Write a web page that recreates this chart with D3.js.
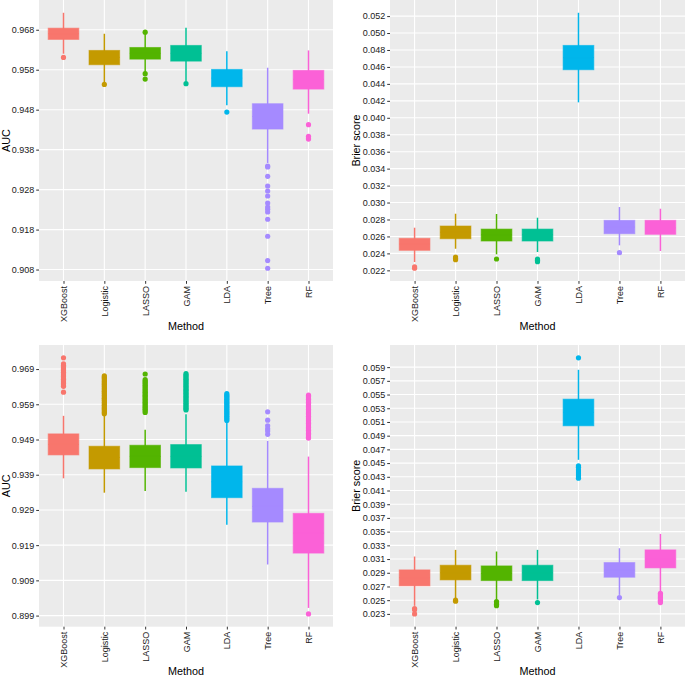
<!DOCTYPE html>
<html><head><meta charset="utf-8">
<script src="https://cdn.jsdelivr.net/npm/d3@7"></script>
<style>body{margin:0;background:#fff}svg{display:block}text{font-family:"Liberation Sans",Arial,sans-serif}</style>
</head><body>
<svg id="chart" width="685" height="676"></svg>
<script>
const methods = ["XGBoost","Logistic","LASSO","GAM","LDA","Tree","RF"];
const colors = ["#F8766D","#C49A00","#53B400","#00C094","#00B6EB","#A58AFF","#FB61D7"];

// Panel A: AUC (top-left)
const aucA_lo  = [0.9620, 0.9549, 0.9574, 0.95508, 0.94908, 0.93467, 0.9470];
const aucA_q1  = [0.96558, 0.95925, 0.96065, 0.96015, 0.95375, 0.94315, 0.95315];
const aucA_med = [0.9670, 0.9611, 0.9621, 0.9621, 0.9559, 0.9463, 0.9556];
const aucA_q3  = [0.9684, 0.96283, 0.96357, 0.96408, 0.95808, 0.9495, 0.95783];
const aucA_hi  = [0.97225, 0.9670, 0.9670, 0.9685, 0.96265, 0.9585, 0.96283];
const aucA_out = [
  [0.96107],
  [0.95433],
  [0.9674, 0.95700, 0.95565],
  [0.9545],
  [0.9474],
  [0.9339, 0.93366, 0.93133, 0.9289, 0.92765, 0.9264, 0.92465, 0.92365, 0.92308, 0.9224, 0.92058, 0.91633, 0.91025, 0.90833],
  [0.94425, 0.94133, 0.9409, 0.94065]
];
const aucA_ticks = [0.908, 0.918, 0.928, 0.938, 0.948, 0.958, 0.968];

// Panel B: Brier score (top-right)
const brierB_lo  = [0.02298, 0.02455, 0.02389, 0.02416, 0.04182, 0.02495, 0.02428];
const brierB_q1  = [0.02436, 0.02573, 0.02546, 0.02546, 0.04567, 0.02632, 0.02625];
const brierB_med = [0.0251, 0.0265, 0.0262, 0.0262, 0.0471, 0.0271, 0.0270];
const brierB_q3  = [0.02578, 0.02723, 0.02687, 0.02687, 0.04854, 0.0279, 0.0279];
const brierB_hi  = [0.02703, 0.02868, 0.02865, 0.02821, 0.05239, 0.02947, 0.02927];
const brierB_out = [
  [0.0224, 0.02225],
  [0.02357, 0.02340, 0.02326],
  [0.02334],
  [0.02334, 0.02318, 0.02302],
  [],
  [0.02408],
  []
];
const brierB_ticks = [0.022,0.024,0.026,0.028,0.030,0.032,0.034,0.036,0.038,0.040,0.042,0.044,0.046,0.048,0.050,0.052];

// Panel C: AUC (bottom-left)
const aucC_lo  = [0.93798, 0.9339, 0.93438, 0.93419, 0.9248, 0.91351, 0.90118];
const aucC_q1  = [0.94462, 0.94064, 0.94102, 0.94092, 0.93248, 0.92556, 0.91674];
const aucC_med = [0.9476, 0.9439, 0.9442, 0.9442, 0.9370, 0.9300, 0.9224];
const aucC_q3  = [0.9506, 0.94709, 0.94737, 0.94756, 0.94149, 0.93514, 0.92803];
const aucC_hi  = [0.95572, 0.95572, 0.95174, 0.9562, 0.95411, 0.94861, 0.94415];
const aucC_out = [
  [0.9722, 0.9705, 0.9701, 0.9697, 0.9693, 0.9689, 0.9685, 0.9681, 0.9677, 0.9673, 0.9669, 0.9665, 0.9661, 0.9657, 0.9653, 0.9649, 0.9645, 0.9641, 0.96245],
  [0.9671, 0.9667, 0.9663, 0.9659, 0.9655, 0.9651, 0.9647, 0.9643, 0.9639, 0.9635, 0.9631, 0.9627, 0.9623, 0.9619, 0.9615, 0.9611, 0.9607, 0.9603, 0.9599, 0.9595, 0.9591, 0.9587, 0.9583, 0.9579, 0.9575, 0.9571, 0.9567, 0.9563],
  [0.9676, 0.9660, 0.9656, 0.9652, 0.9648, 0.9644, 0.9640, 0.9636, 0.9632, 0.9628, 0.9624, 0.9620, 0.9616, 0.9612, 0.9608, 0.9604, 0.9600, 0.9596, 0.9592, 0.9588, 0.9584, 0.9580, 0.9576, 0.9572, 0.9567],
  [0.9677, 0.9673, 0.9669, 0.9665, 0.9661, 0.9657, 0.9653, 0.9649, 0.9645, 0.9641, 0.9637, 0.9633, 0.9629, 0.9625, 0.9621, 0.9617, 0.9613, 0.9609, 0.9605, 0.9601, 0.9597, 0.9593, 0.9589, 0.9585, 0.9581, 0.9577, 0.9574],
  [0.9620, 0.9616, 0.9612, 0.9608, 0.9604, 0.9600, 0.9596, 0.9592, 0.9588, 0.9584, 0.9580, 0.9576, 0.9572, 0.9568, 0.9564, 0.9560, 0.9556, 0.9552, 0.9548, 0.9544],
  [0.95686, 0.95449, 0.95288, 0.95202, 0.95145, 0.95046],
  [0.9616, 0.9612, 0.9608, 0.9604, 0.9600, 0.9596, 0.9592, 0.9588, 0.9584, 0.9580, 0.9576, 0.9572, 0.9568, 0.9564, 0.9560, 0.9556, 0.9552, 0.9548, 0.9544, 0.9540, 0.9536, 0.9532, 0.9528, 0.9524, 0.9520, 0.9516, 0.9512, 0.9508, 0.9504, 0.9500, 0.9496, 0.9494, 0.89948]
];
const aucC_ticks = [0.899, 0.909, 0.919, 0.929, 0.939, 0.949, 0.959, 0.969];

// Panel D: Brier score (bottom-right)
const brierD_lo  = [0.02417, 0.02529, 0.02504, 0.0251, 0.04548, 0.02577, 0.02626];
const brierD_q1  = [0.02709, 0.02796, 0.02786, 0.02786, 0.05044, 0.02835, 0.02971];
const brierD_med = [0.0283, 0.0290, 0.0289, 0.0290, 0.0524, 0.0294, 0.0310];
const brierD_q3  = [0.02942, 0.0301, 0.0300, 0.0301, 0.05433, 0.03049, 0.03234];
const brierD_hi  = [0.03137, 0.03234, 0.0321, 0.03234, 0.05861, 0.03258, 0.03467];
const brierD_out = [
  [0.02378, 0.02360, 0.0230],
  [0.0250, 0.02485],
  [0.0248, 0.0246, 0.0244, 0.0242],
  [0.02465],
  [0.06036, 0.0446, 0.0444, 0.0440, 0.0437, 0.0434, 0.0431, 0.0428],
  [0.02538],
  [0.0260, 0.0258, 0.0256, 0.0254, 0.0252, 0.0250, 0.0248, 0.02465]
];
const brierD_ticks = [0.023,0.025,0.027,0.029,0.031,0.033,0.035,0.037,0.039,0.041,0.043,0.045,0.047,0.049,0.051,0.053,0.055,0.057,0.059];

const panels = [
  {lo:aucA_lo,q1:aucA_q1,med:aucA_med,q3:aucA_q3,hi:aucA_hi,out:aucA_out,ticks:aucA_ticks,ylab:"AUC",box:[39,333,0,281],titleX:6},
  {lo:brierB_lo,q1:brierB_q1,med:brierB_med,q3:brierB_q3,hi:brierB_hi,out:brierB_out,ticks:brierB_ticks,ylab:"Brier score",box:[390,685,0,281],titleX:356},
  {lo:aucC_lo,q1:aucC_q1,med:aucC_med,q3:aucC_q3,hi:aucC_hi,out:aucC_out,ticks:aucC_ticks,ylab:"AUC",box:[39,333,345,626.7],titleX:6},
  {lo:brierD_lo,q1:brierD_q1,med:brierD_med,q3:brierD_q3,hi:brierD_hi,out:brierD_out,ticks:brierD_ticks,ylab:"Brier score",box:[390,685,345,626.7],titleX:356}
];

const svg = d3.select("#chart");

panels.forEach(p => {
  const [x0,x1,y0,y1] = p.box;
  const allVals = [].concat(p.lo, p.hi, ...p.out);
  const [mn, mx] = d3.extent(allVals);
  const pad = (mx - mn) * 0.05;
  const y = d3.scaleLinear().domain([mn - pad, mx + pad]).range([y1, y0]);
  const x = d3.scalePoint().domain(methods).range([x0, x1]).padding(0.6);
  const bw = x.step() * 0.75;

  const g = svg.append("g");
  g.append("rect").attr("x",x0).attr("y",y0).attr("width",x1-x0).attr("height",y1-y0).attr("fill","#EBEBEB");
  // grid
  g.selectAll(".hg").data(p.ticks).join("line")
    .attr("x1",x0).attr("x2",x1).attr("y1",d=>y(d)).attr("y2",d=>y(d))
    .attr("stroke","#fff").attr("stroke-width",1.1);
  g.selectAll(".vg").data(methods).join("line")
    .attr("x1",d=>x(d)).attr("x2",d=>x(d)).attr("y1",y0).attr("y2",y1)
    .attr("stroke","#fff").attr("stroke-width",1.1);

  // y axis
  const yAxis = d3.axisLeft(y).tickValues(p.ticks).tickFormat(d3.format(".3f")).tickSize(2.8).tickPadding(2);
  const ya = g.append("g").attr("transform",`translate(${x0},0)`).call(yAxis);
  ya.select(".domain").remove();
  ya.selectAll(".tick line").attr("stroke","#333");
  ya.selectAll(".tick text").attr("fill","#1a1a1a").style("font-size","9px").style("font-family","'Liberation Sans',Arial,sans-serif");

  // x axis
  const xAxis = d3.axisBottom(x).tickSize(2.8).tickPadding(2);
  const xa = g.append("g").attr("transform",`translate(0,${y1})`).call(xAxis);
  xa.select(".domain").remove();
  xa.selectAll(".tick line").attr("stroke","#333");
  xa.selectAll(".tick text").attr("fill","#1a1a1a").style("font-size","9px")
    .style("font-family","'Liberation Sans',Arial,sans-serif")
    .attr("text-anchor","end").attr("dy","0.35em").attr("y",0)
    .attr("transform","translate(0,5) rotate(-90)");

  // titles
  g.append("text").attr("x",(x0+x1)/2).attr("y",y1+48.5).attr("text-anchor","middle")
    .style("font-size","10.8px").attr("fill","#000").text("Method");
  g.append("text").attr("transform",`translate(${p.titleX},${(y0+y1)/2}) rotate(-90)`)
    .attr("text-anchor","middle").attr("dy","0.35em").style("font-size","10.8px").attr("fill","#000").text(p.ylab);

  // boxes
  methods.forEach((m,i) => {
    const cx = x(m), c = colors[i];
    g.append("line").attr("x1",cx).attr("x2",cx).attr("y1",y(p.lo[i])).attr("y2",y(p.hi[i]))
      .attr("stroke",c).attr("stroke-width",1.5);
    g.append("rect").attr("x",cx-bw/2).attr("width",bw)
      .attr("y",y(p.q3[i])).attr("height",y(p.q1[i])-y(p.q3[i]))
      .attr("fill",c).attr("stroke",c).attr("stroke-opacity",0.6).attr("stroke-width",1);
    g.append("line").attr("x1",cx-bw/2).attr("x2",cx+bw/2).attr("y1",y(p.med[i])).attr("y2",y(p.med[i]))
      .attr("stroke",c).attr("stroke-width",1);
    g.selectAll(null).data(p.out[i]).join("circle")
      .attr("cx",cx).attr("cy",d=>y(d)).attr("r",2.6).attr("fill",c);
  });
});
</script>
</body></html>
